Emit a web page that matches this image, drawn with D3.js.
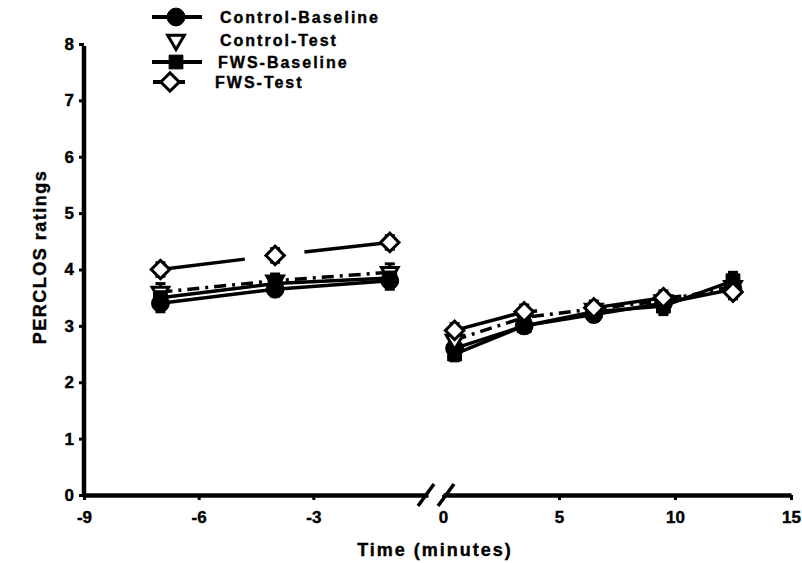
<!DOCTYPE html>
<html>
<head>
<meta charset="utf-8">
<script src="https://cdn.jsdelivr.net/npm/d3@7"></script>
<style>
body{margin:0;background:#fff;}
text{font-family:"Liberation Sans",Arial,sans-serif;font-weight:bold;fill:#000;stroke:#000;stroke-width:0.4px;}
</style>
</head>
<body>
<svg id="chart" width="802" height="563"></svg>
<script>

// time points (minutes), the break sits between -1 and 0.5
var times = [-7, -4, -1, 0.5, 3.5, 6.5, 9.5, 12.5];
var seriesNames = ["Control-Baseline", "Control-Test", "FWS-Baseline", "FWS-Test"];

// PERCLOS means
var controlBaseline = [3.4, 3.65, 3.8, 2.6, 3.0, 3.2, 3.4, 3.65];
var controlTest     = [3.6, 3.8, 3.95, 2.75, 3.15, 3.3, 3.45, 3.7];
var fwsBaseline     = [3.5, 3.75, 3.85, 2.5, 3.0, 3.25, 3.35, 3.8];
var fwsTest         = [4.0, 4.25, 4.48, 2.92, 3.25, 3.32, 3.5, 3.6];

// error bar half heights (guessed from the caps)
var controlBaselineErr = [0.15, 0.12, 0.15, 0.15, 0.12, 0.12, 0.15, 0.12];
var controlTestErr     = [0.15, 0.12, 0.15, 0.15, 0.12, 0.12, 0.12, 0.15];
var fwsBaselineErr     = [0.15, 0.12, 0.15, 0.12, 0.12, 0.12, 0.15, 0.15];
var fwsTestErr         = [0.12, 0.12, 0.12, 0.12, 0.12, 0.12, 0.12, 0.12];

var yTicks = [0, 1, 2, 3, 4, 5, 6, 7, 8];
var xTicksBefore = [-9, -6, -3];
var xTicksAfter = [0, 5, 10, 15];

var svg = d3.select("#chart");

var y = d3.scaleLinear().domain([0, 8]).range([495, 44]);
var xBefore = d3.scaleLinear().domain([-9, 0]).range([84, 428]);
var xAfter = d3.scaleLinear().domain([0, 15]).range([443, 791]);
function x(t){ return t < 0 ? xBefore(t) : xAfter(t); }
function plain(d){ return String(d); } // keep the ascii hyphen, not d3's minus sign

var series = [
  {name: seriesNames[0], values: controlBaseline, err: controlBaselineErr, symbol: d3.symbolCircle, size: 250, rotate: 0, open: false, dash: null, key: true},
  {name: seriesNames[1], values: controlTest, err: controlTestErr, symbol: d3.symbolTriangle, size: 120, rotate: 180, open: true, dash: "12,6,3,6", key: false},
  {name: seriesNames[2], values: fwsBaseline, err: fwsBaselineErr, symbol: d3.symbolSquare, size: 190, rotate: 0, open: false, dash: null, key: true},
  {name: seriesNames[3], values: fwsTest, err: fwsTestErr, symbol: d3.symbolSquare, size: 170, rotate: 45, open: true, dash: "85,60", key: true}
];

// axes
var yAxis = svg.append("g")
    .attr("transform", "translate(84,0)")
    .call(d3.axisLeft(y).tickValues(yTicks).tickFormat(plain).tickSize(5).tickSizeOuter(0).tickPadding(5));

svg.append("g")
    .attr("transform", "translate(0,495)")
    .call(d3.axisBottom(xBefore).tickValues(xTicksBefore).tickFormat(plain).tickSize(5).tickSizeOuter(0).tickPadding(11));

svg.append("g")
    .attr("transform", "translate(0,495)")
    .call(d3.axisBottom(xAfter).tickValues(xTicksAfter).tickFormat(plain).tickSize(5).tickSizeOuter(0).tickPadding(11));

svg.selectAll(".domain").attr("stroke", "#000").attr("stroke-width", 4.5);
svg.selectAll(".tick line").attr("stroke", "#000").attr("stroke-width", 3);
svg.selectAll(".tick text")
    .attr("font-size", null)
    .style("font-size", "17px")
    .style("font-weight", "bold")
    .style("font-family", "'Liberation Sans', Arial, sans-serif");
yAxis.select(".domain").attr("d", "M0,46V497");

// break marks on the x axis
svg.selectAll(".brk")
    .data([426, 446])
  .enter().append("line")
    .attr("x1", function(d){ return d - 8; })
    .attr("y1", 506)
    .attr("x2", function(d){ return d + 8; })
    .attr("y2", 484)
    .attr("stroke", "#000")
    .attr("stroke-width", 3.5);

// axis titles
svg.append("text")
    .attr("x", 435).attr("y", 556)
    .attr("text-anchor", "middle")
    .style("font-size", "18px")
    .style("letter-spacing", "2px")
    .text("Time (minutes)");

svg.append("text")
    .attr("transform", "translate(46,257) rotate(-90)")
    .attr("text-anchor", "middle")
    .style("font-size", "18px")
    .style("letter-spacing", "1.5px")
    .text("PERCLOS ratings");

// data: one line per side of the break
var line = d3.line()
    .x(function(d){ return x(d.t); })
    .y(function(d){ return y(d.v); });

series.forEach(function(s){
  var pts = times.map(function(t, i){ return {t: t, v: s.values[i], e: s.err[i]}; });
  s.pts = pts;
  [pts.filter(function(p){ return p.t < 0; }), pts.filter(function(p){ return p.t > 0; })].forEach(function(seg){
    svg.append("path")
        .attr("d", line(seg))
        .attr("fill", "none")
        .attr("stroke", "#000")
        .attr("stroke-width", 3.5)
        .attr("stroke-dasharray", s.dash);
  });
});

series.forEach(function(s){
  var g = svg.append("g");
  var eb = g.selectAll(".eb").data(s.pts).enter().append("g");
  eb.append("line")
      .attr("x1", function(d){ return x(d.t); })
      .attr("x2", function(d){ return x(d.t); })
      .attr("y1", function(d){ return y(d.v - d.e); })
      .attr("y2", function(d){ return y(d.v + d.e); })
      .attr("stroke", "#000").attr("stroke-width", 3);
  eb.selectAll(".cap")
      .data(function(d){ return [d.v - d.e, d.v + d.e].map(function(v){ return {t: d.t, v: v}; }); })
    .enter().append("line")
      .attr("x1", function(d){ return x(d.t) - 5; })
      .attr("x2", function(d){ return x(d.t) + 5; })
      .attr("y1", function(d){ return y(d.v); })
      .attr("y2", function(d){ return y(d.v); })
      .attr("stroke", "#000").attr("stroke-width", 3);
});

function marker(sel, s){
  sel.attr("d", d3.symbol().type(s.symbol).size(s.size))
      .attr("fill", s.open ? "#fff" : "#000")
      .attr("stroke", "#000")
      .attr("stroke-width", s.open ? 3 : 1);
}

series.forEach(function(s){
  svg.selectAll(null)
      .data(s.pts)
    .enter().append("path")
      .attr("transform", function(d){ return "translate(" + x(d.t) + "," + y(d.v) + ") rotate(" + s.rotate + ")"; })
      .call(marker, s);
});

// legend
var legendY = [17, 40, 62, 82];
var legend = svg.selectAll(".legend")
    .data(series)
  .enter().append("g")
    .attr("transform", function(d, i){ return "translate(176," + legendY[i] + ")"; });

legend.filter(function(d){ return d.key; })
  .append("line")
    .attr("x1", function(d){ return d.rotate == 45 ? -23 : -24; })
    .attr("x2", function(d){ return d.rotate == 45 ? 9 : 26; })
    .attr("stroke", "#000")
    .attr("stroke-width", 4);

legend.append("path")
    .attr("transform", function(d){ return (d.rotate == 45 ? "translate(-6,0) " : "") + "rotate(" + d.rotate + ")"; })
    .each(function(d){ d3.select(this).call(marker, d); });

legend.append("text")
    .attr("x", function(d, i){ return [44, 44, 42, 39][i]; })
    .attr("dy", "0.35em")
    .style("font-size", "16px")
    .style("letter-spacing", "2px")
    .text(function(d){ return d.name; });

</script>
</body>
</html>
